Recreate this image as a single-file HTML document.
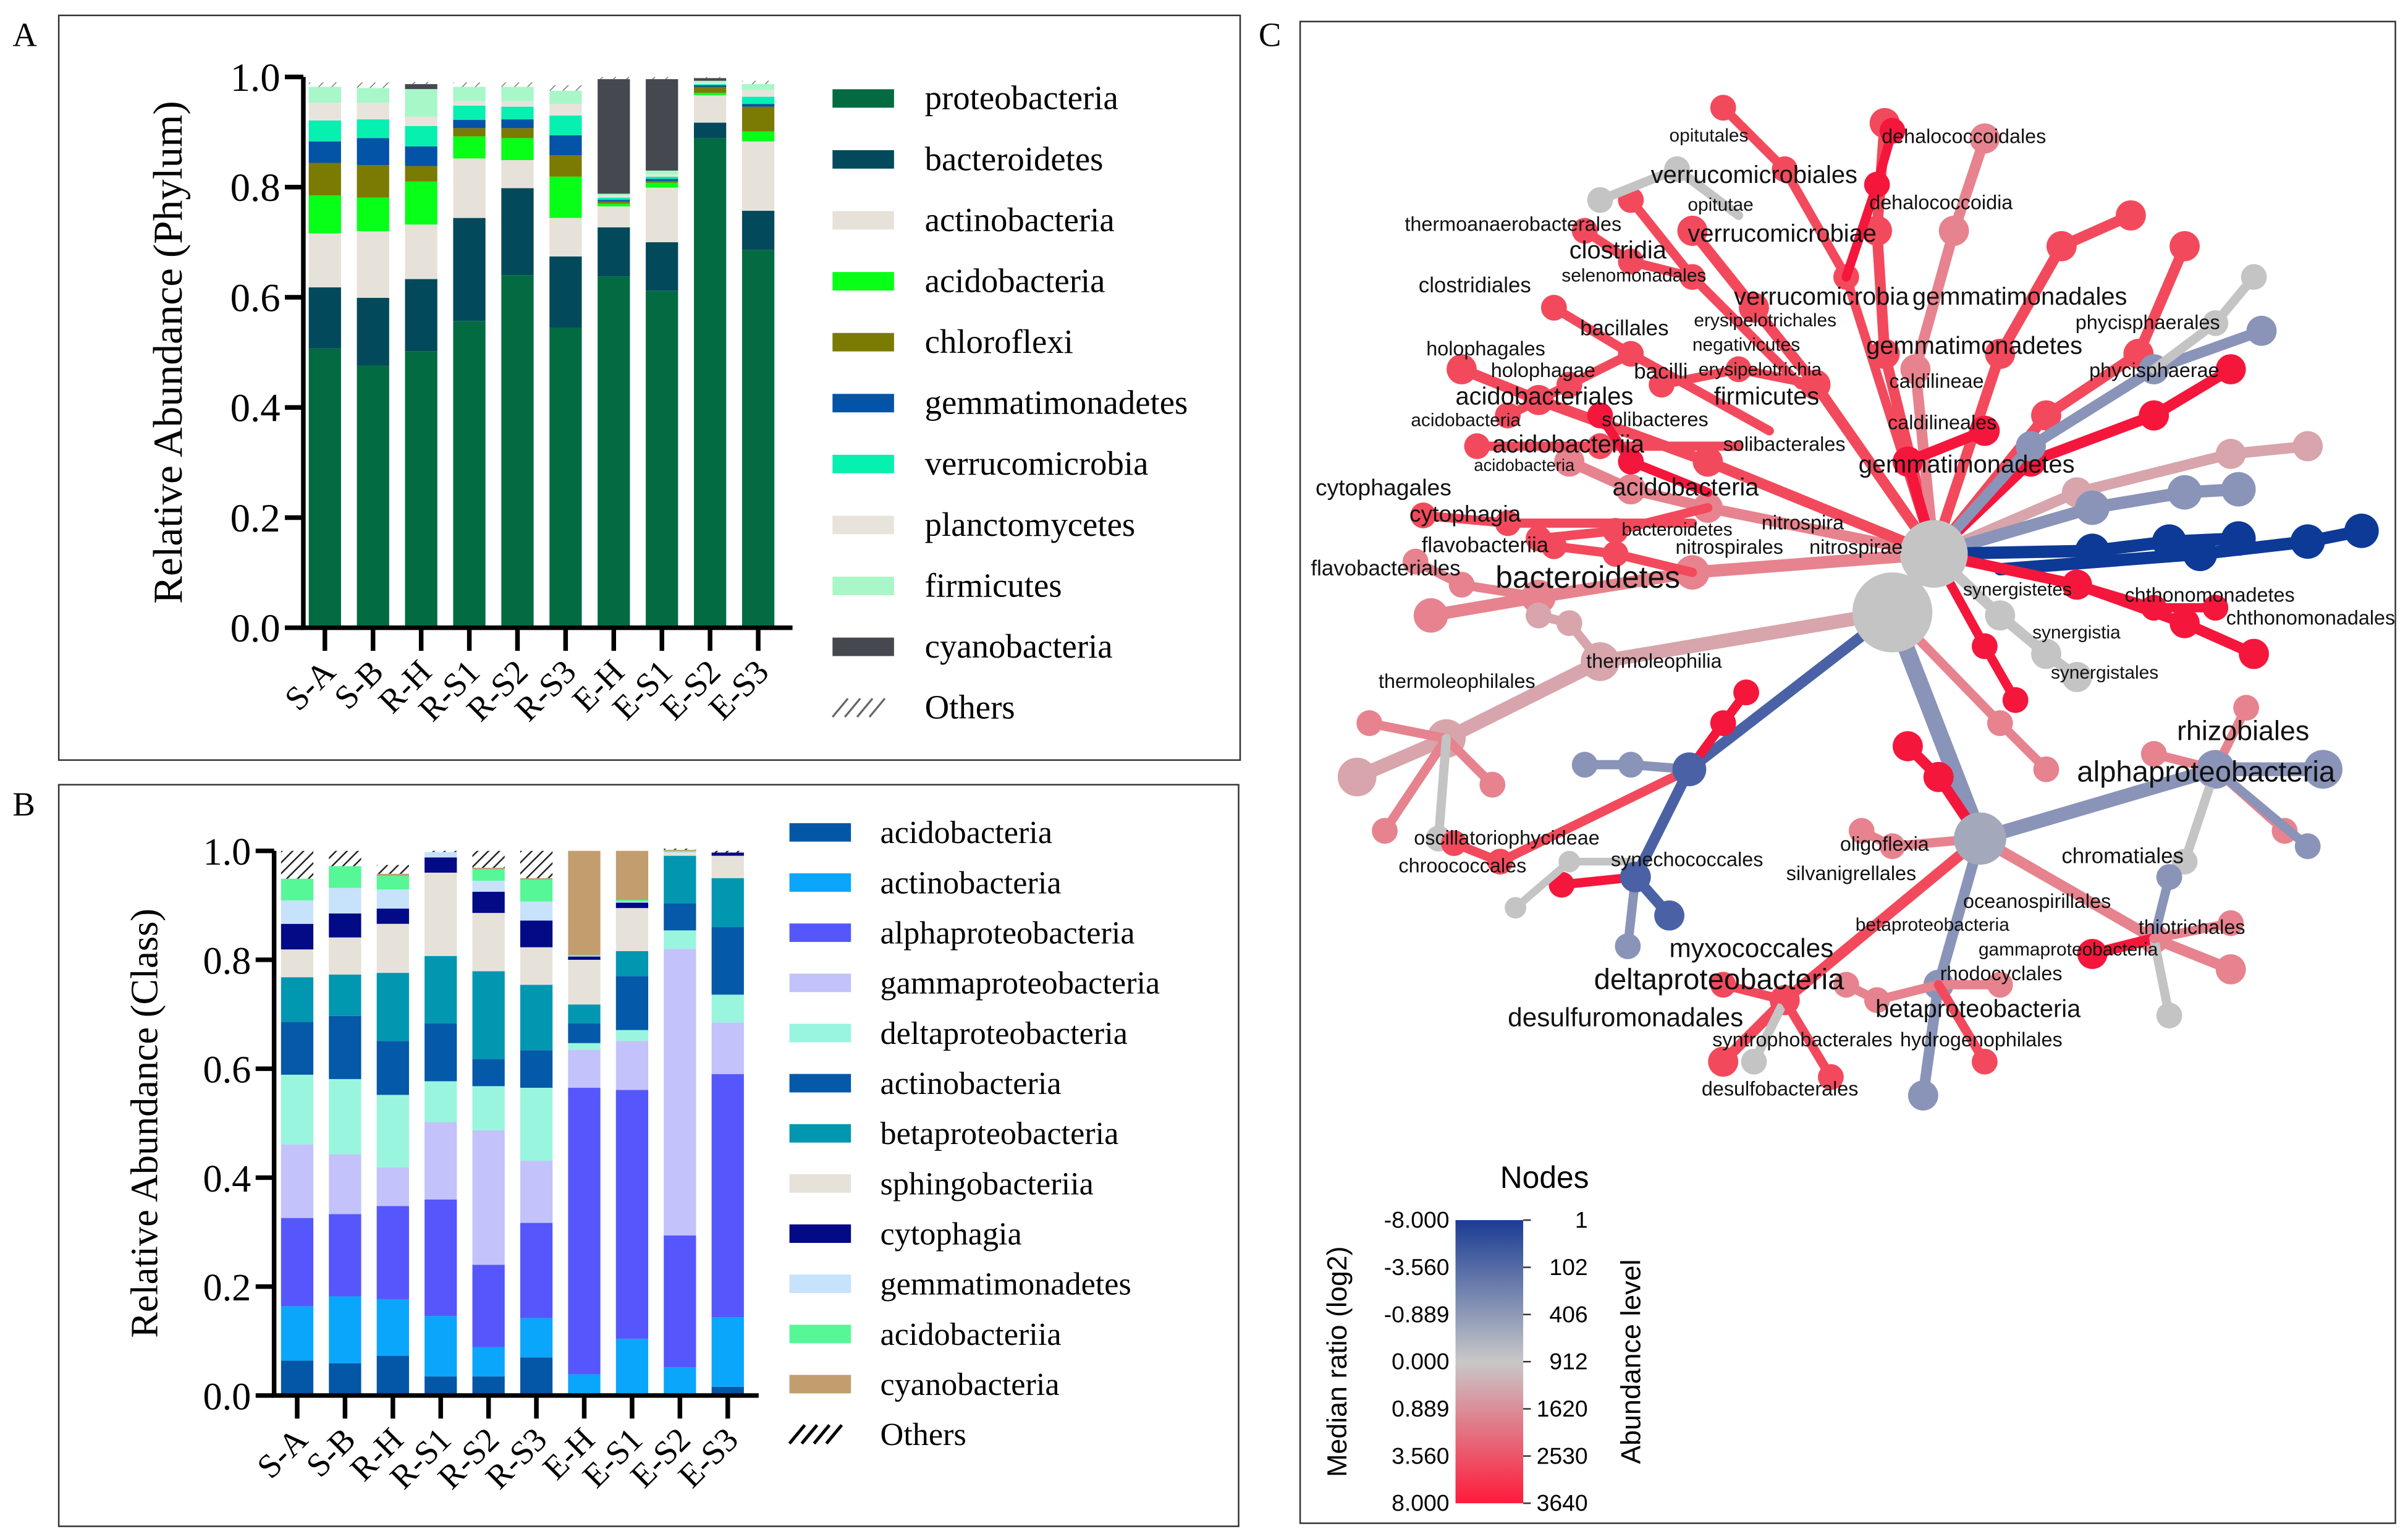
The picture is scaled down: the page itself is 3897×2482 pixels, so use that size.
<!DOCTYPE html>
<html><head><meta charset="utf-8">
<style>
html,body{margin:0;padding:0;background:#fff;}
svg{display:block;}
.serif{font-family:"Liberation Serif",serif;}
.sans{font-family:"Liberation Sans",sans-serif;}
</style></head>
<body>
<svg id="fig" width="3897" height="2482" viewBox="0 0 1565 997" xmlns="http://www.w3.org/2000/svg">
<defs>
<pattern id="hatch" patternUnits="userSpaceOnUse" width="5" height="5" patternTransform="rotate(45)">
<rect width="5" height="5" fill="#fff"/><line x1="0" y1="0" x2="0" y2="5" stroke="#222" stroke-width="2"/>
</pattern>
<pattern id="hatchA" patternUnits="userSpaceOnUse" width="6" height="6" patternTransform="rotate(45)">
<rect width="6" height="6" fill="#fff"/><line x1="0" y1="0" x2="0" y2="6" stroke="#777" stroke-width="1.2"/>
</pattern>
<linearGradient id="cbar" x1="0" y1="0" x2="0" y2="1">
<stop offset="0" stop-color="#1a3c94"/><stop offset="0.5" stop-color="#c8c8c8"/><stop offset="1" stop-color="#ff1a3a"/>
</linearGradient>
</defs>
<rect x="0" y="0" width="1565" height="997" fill="#fff"/>
<rect x="38" y="10" width="768" height="484" fill="none" stroke="#333" stroke-width="1"/>
<rect x="38" y="510" width="767" height="482" fill="none" stroke="#333" stroke-width="1"/>
<rect x="845" y="14" width="712" height="976" fill="none" stroke="#333" stroke-width="1"/>
<text x="8" y="30" class="serif" font-size="22">A</text>
<text x="8" y="530" class="serif" font-size="22">B</text>
<text x="818" y="30" class="serif" font-size="22">C</text>
<g id="gA"></g><g id="gB"></g><g id="gC"></g>
</svg>
<script>
// ---------- Panel A data ----------
const samplesA = ["S-A","S-B","R-H","R-S1","R-S2","R-S3","E-H","E-S1","E-S2","E-S3"];
const phylumNames = ["proteobacteria","bacteroidetes","actinobacteria","acidobacteria","chloroflexi","gemmatimonadetes","verrucomicrobia","planctomycetes","firmicutes","cyanobacteria","Others"];
const proteobacteria = [.507,.476,.502,.557,.640,.545,.638,.612,.889,.686];
const bacteroidetes = [.111,.123,.131,.187,.158,.129,.089,.088,.028,.071];
const actinobacteriaP = [.098,.121,.099,.108,.051,.070,.038,.099,.050,.126];
const acidobacteriaP = [.069,.061,.078,.040,.040,.075,.005,.009,.004,.018];
const chloroflexi = [.059,.059,.028,.015,.018,.039,.004,.003,.011,.045];
const gemmatimonadetesP = [.039,.049,.036,.015,.016,.036,.003,.004,.003,.005];
const verrucomicrobia = [.038,.034,.037,.026,.023,.036,.004,.004,.002,.013];
const planctomycetes = [.032,.030,.017,.008,.010,.021,.004,.004,.003,.012];
const firmicutes = [.029,.027,.050,.026,.026,.024,.003,.007,.003,.011];
const cyanobacteriaP = [0,0,.009,0,0,0,.208,.166,.005,0];
const othersP = [.008,.01,.004,.008,.008,.01,.004,.004,.002,.006];
const seriesA = [proteobacteria,bacteroidetes,actinobacteriaP,acidobacteriaP,chloroflexi,gemmatimonadetesP,verrucomicrobia,planctomycetes,firmicutes,cyanobacteriaP,othersP];
const colorsA = ["#036b42","#03495c","#e6e2da","#08ff18","#7b7a03","#0353a7","#06f0b0","#e8e4dc","#a8f7c8","#45484f","url(#hatchA)"];
const ticksA = ["0.0","0.2","0.4","0.6","0.8","1.0"];
// ---------- Panel B data ----------
const samplesB = ["S-A","S-B","R-H","R-S1","R-S2","R-S3","E-H","E-S1","E-S2","E-S3"];
const classNames = ["acidobacteria","actinobacteria","alphaproteobacteria","gammaproteobacteria","deltaproteobacteria","actinobacteria","betaproteobacteria","sphingobacteriia","cytophagia","gemmatimonadetes","acidobacteriia","cyanobacteria","Others"];
const acidobacteriaC = [.064,.059,.073,.035,.035,.070,0,0,0,.016];
const actinobacteriaC = [.100,.123,.104,.111,.054,.072,.039,.104,.052,.128];
const alphaproteo = [.162,.151,.171,.214,.151,.175,.526,.457,.242,.446];
const gammaproteo = [.135,.110,.071,.142,.247,.114,.070,.090,.526,.095];
const deltaproteo = [.128,.138,.133,.075,.081,.134,.012,.020,.034,.051];
const actinobacteriaC2 = [.097,.116,.099,.106,.050,.069,.036,.099,.050,.124];
const betaproteo = [.082,.076,.125,.124,.161,.120,.035,.046,.087,.090];
const sphingobacteriia = [.051,.068,.090,.153,.107,.069,.082,.079,.005,.041];
const cytophagia = [.047,.044,.028,.028,.039,.049,.006,.010,0,.006];
const gemmatimonadetesC = [.043,.047,.035,.010,.020,.035,.001,.002,.002,0];
const acidobacteriia = [.040,.040,.025,0,.021,.040,.002,.003,.002,0];
const cyanobacteriaC = [0,0,.004,0,.003,.003,.191,.090,.002,0];
const othersC = [.051,.028,.016,.002,.031,.05,0,0,.002,.003];
const seriesB = [acidobacteriaC,actinobacteriaC,alphaproteo,gammaproteo,deltaproteo,actinobacteriaC2,betaproteo,sphingobacteriia,cytophagia,gemmatimonadetesC,acidobacteriia,cyanobacteriaC,othersC];
const colorsB = ["#0457a6","#0aa6fb","#5557fc","#c3c2fb","#99f5de","#0459a8","#0297b0","#e6e2da","#030a85","#c7e2fb","#56f796","#c29d6e","url(#hatch)"];
const ticksB = ["0.0","0.2","0.4","0.6","0.8","1.0"];

const NS="http://www.w3.org/2000/svg";
function mk(tag, attrs, parent, text){
  const e=document.createElementNS(NS,tag);
  for(const k in attrs) e.setAttribute(k, attrs[k]);
  if(text!==undefined) e.textContent=text;
  parent.appendChild(e); return e;
}

function drawStacked(g, cfg, samples, series, colors, ticks, names, prefix){
  const yS = v => cfg.y0 - v*(cfg.y0-cfg.y1);
  const xS = i => cfg.x0 + cfg.first + i*cfg.pitch;
  samples.forEach((s,i)=>{
    let acc=0;
    series.forEach((ser,k)=>{
      const v=ser[i]; if(!v) { return; }
      const r=mk("rect",{x:xS(i)-cfg.bw/2,y:yS(acc+v),width:cfg.bw,height:yS(acc)-yS(acc+v),fill:colors[k]},g);
      
      
      acc+=v;
    });
    const t=mk("line",{x1:xS(i),y1:cfg.y0,x2:xS(i),y2:cfg.y0+15,stroke:"#000","stroke-width":3},g);
    
    
    const lb=mk("text",{x:xS(i)+8,y:cfg.y0+30,"text-anchor":"end","font-size":cfg.xfs,class:"serif",transform:`rotate(-45 ${xS(i)+8} ${cfg.y0+30})`},g,s);
    
    
  });
  const ax=mk("path",{d:`M${cfg.x0} ${cfg.y1} V${cfg.y0} H${cfg.xEnd}`,stroke:"#000","stroke-width":3,fill:"none"},g);
  
  
  ticks.forEach((t,j)=>{
    const v=parseFloat(t);
    const tl=mk("line",{x1:cfg.x0-12,y1:yS(v),x2:cfg.x0,y2:yS(v),stroke:"#000","stroke-width":3},g);
    
    
    const tx=mk("text",{x:cfg.x0-15,y:yS(v)+9,"text-anchor":"end","font-size":cfg.tfs,class:"serif"},g,t);
    
    
  });
  const yt=mk("text",{x:0,y:0,"text-anchor":"middle","font-size":cfg.yfs,class:"serif",transform:`translate(${cfg.ytx} ${(cfg.y0+cfg.y1)/2}) rotate(-90)`},g,cfg.ytitle);
  
  
  names.forEach((n,k)=>{
    const y=cfg.ly+k*cfg.lstep;
    if(n==="Others"){
      for(let q=0;q<4;q++){
        const hl=mk("line",{x1:cfg.lx+q*8,y1:y+6,x2:cfg.lx+q*8+10,y2:y-6,stroke:prefix==="a"?"#666":"#000","stroke-width":prefix==="a"?1.3:2},g);
        
        
      }
    } else {
      const sw=mk("rect",{x:cfg.lx,y:y-6,width:40,height:12,fill:colors[k]},g);
      
      
    }
    const lt=mk("text",{x:cfg.ltx,y:y+7,"font-size":cfg.lfs,class:"serif"},g,n);
    
    
  });
}
drawStacked(document.getElementById("gA"),
 {x0:197,xEnd:515,y0:408,y1:50,first:14,pitch:31.3,bw:21,xfs:22,tfs:26,yfs:27,lfs:22,ytx:118,ytitle:"Relative Abundance (Phylum)",lx:541,ltx:601,ly:64,lstep:39.6},
 samplesA,seriesA,colorsA,ticksA,phylumNames,"a");
drawStacked(document.getElementById("gB"),
 {x0:178,xEnd:493,y0:907,y1:553,first:15,pitch:31.1,bw:21,xfs:22,tfs:25,yfs:25,lfs:21,ytx:102,ytitle:"Relative Abundance (Class)",lx:513,ltx:572,ly:541,lstep:32.6},
 samplesB,seriesB,colorsB,ticksB,classNames,"b");

// ---------- Panel C tree ----------
const gC=document.getElementById("gC");
const R="#f5163c",R2="#f24a5c",P="#e7838e",PG="#d7a5ab",GR="#c4c4c4",BG="#8a94b8",BL="#4a62a5",DB="#0d3a97";
const branches=[
 [[1257,360],[1110,330],[1060,318],[1020,300],P,7],
 [[1110,330],[1050,345],[1000,350],R2,6],
 [[1257,360],[1180,250],[1140,200],[1100,150],R2,7],
 [[1180,250],[1130,240],[1080,250],R2,6],
 [[1257,360],[1225,230],[1220,150],[1225,80],R2,7],
 [[1257,360],[1245,240],[1270,150],[1290,90],P,7],
 [[1257,360],[1200,180],[1160,110],[1120,70],R2,6],
 [[1200,180],[1220,120],[1230,85],R,6],
 [[1257,360],[1300,230],[1340,160],[1385,140],R2,7],
 [[1257,360],[1330,270],[1390,230],[1420,160],R2,7],
 [[1257,360],[1320,300],[1400,270],[1450,240],R,7],
 [[1257,360],[1350,320],[1450,295],[1500,290],PG,7],
 [[1257,360],[1320,290],[1400,240],[1470,215],BG,7],
 [[1400,240],[1440,210],[1465,180],GR,6],
 [[1257,360],[1360,330],[1420,320],[1455,318],BG,8],
 [[1257,360],[1360,358],[1410,352],[1455,350],DB,8],
 [[1300,370],[1430,360],[1500,352],[1535,345],DB,8],
 [[1257,360],[1350,380],[1420,405],[1465,425],R,7],
 [[1350,380],[1400,395],[1440,395],R,6],
 [[1257,360],[1300,400],[1330,425],[1350,440],GR,7],
 [[1257,360],[1290,420],[1310,455],R,6],
 [[1257,360],[1100,372],[1000,388],[930,400],P,8],
 [[1000,388],[950,380],[920,365],P,6],
 [[1100,372],[1050,360],[1010,355],R2,6],
 [[1257,360],[1110,300],[1000,260],[950,240],R2,7],
 [[1150,280],[1060,230],[1010,200],R2,6],
 [[1060,230],[1020,250],[980,270],R2,6],
 [[1170,250],[1100,180],[1060,130],R2,6],
 [[1100,180],[1060,170],[1030,150],R2,6],
 [[1130,290],[1040,290],[960,290],R2,6],
 [[1100,340],[980,340],[925,335],R2,6],
 [[1110,320],[1060,300],[1040,270],R,6],
 [[1130,140],[1090,110],[1040,130],GR,6],
 [[1230,398],[1040,430],[940,480],[882,505],PG,9],
 [[940,480],[890,470],P,6],[[940,480],[900,540],P,6],[[940,480],[970,510],P,6],[[940,480],[935,545],GR,6],
 [[1040,430],[1020,405],[1000,400],PG,6],
 [[1230,398],[1098,500],[1063,570],[1085,595],BL,7],
 [[1063,570],[1058,615],BG,6],
 [[1098,500],[1060,497],[1030,497],BG,6],
 [[1098,500],[975,560],[945,548],R2,6],
 [[1098,500],[1120,470],[1135,450],R,6],
 [[1063,570],[1015,575],R,6],
 [[1060,560],[1020,560],[985,590],GR,5],
 [[1230,398],[1287,545],BG,11],
 [[1287,545],[1440,500],[1510,500],BG,9],
 [[1440,500],[1460,460],P,6],[[1440,500],[1485,540],P,6],[[1440,500],[1420,560],GR,6],[[1440,500],[1500,550],BG,6],[[1440,500],[1400,490],P,6],
 [[1287,545],[1400,610],[1450,630],P,7],
 [[1400,610],[1410,570],BG,6],[[1400,610],[1360,620],R,7],[[1400,610],[1410,660],GR,6],[[1400,610],[1450,600],P,6],
 [[1287,545],[1260,640],[1250,712],BG,7],
 [[1260,640],[1220,650],[1200,640],P,6],[[1260,640],[1300,640],P,6],[[1260,640],[1290,690],R2,6],
 [[1287,545],[1160,650],[1120,690],R2,7],
 [[1160,650],[1140,690],GR,6],[[1160,650],[1190,700],R2,6],[[1160,650],[1120,640],R2,6],
 [[1287,545],[1260,505],[1240,485],R,7],
 [[1287,545],[1230,550],[1210,540],P,6],
 [[1230,398],[1300,470],[1330,500],P,6],
 [[1257,360],[1240,300],[1290,280],R,7]
];
branches.forEach(b=>{
  const w=b[b.length-1], col=b[b.length-2], pts=b.slice(0,b.length-2);
  const pl=mk("polyline",{points:pts.map(p=>p.join(",")).join(" "),fill:"none",stroke:col,"stroke-width":w,"stroke-linecap":"round","stroke-linejoin":"round"},gC);
  
  
  pts.slice(1).forEach(p=>{
    const c=mk("circle",{cx:p[0],cy:p[1],r:w*1.4,fill:col},gC);
    
    
  });
});
[[1257,360,22,GR],[1230,398,26,GR],[1287,545,17,"#a3a9ba"],[1098,500,11,BL],[1440,500,12,BG],[1063,570,10,BL]].forEach(h=>{
  const c=mk("circle",{cx:h[0],cy:h[1],r:h[2],fill:h[3]},gC);
  
  
});
const labelsC=[
 ["opitutales",1085,92,12],["dehalococcoidales",1223,93,13],["verrucomicrobiales",1073,119,16],["opitutae",1097,137,12],["dehalococcoidia",1215,136,13],
 ["thermoanaerobacterales",913,150,13],["verrucomicrobiae",1097,157,16],["clostridia",1020,168,16],["selenomonadales",1015,183,12],["clostridiales",922,190,14],
 ["verrucomicrobia",1127,198,16],["gemmatimonadales",1243,198,16],["bacillales",1027,218,14],["erysipelotrichales",1101,212,12],["phycisphaerales",1349,214,13],
 ["holophagales",927,231,13],["negativicutes",1100,228,12],["gemmatimonadetes",1213,230,16],["holophagae",969,245,13],["bacilli",1062,246,14],["erysipelotrichia",1104,244,12],["phycisphaerae",1358,245,13],["caldilineae",1228,252,13],
 ["acidobacteriales",946,263,16],["firmicutes",1114,263,16],["acidobacteria",917,277,12],["solibacteres",1041,277,13],["caldilineales",1227,279,13],["acidobacteriia",970,294,16],["solibacterales",1120,293,13],["gemmatimonadetes",1208,307,16],["acidobacteria",958,306,11],
 ["cytophagales",855,322,15],["acidobacteria",1048,322,16],["cytophagia",916,339,15],["nitrospira",1145,344,13],["bacteroidetes",1054,348,12],["flavobacteriia",924,359,14],["nitrospirales",1089,360,13],["nitrospirae",1176,360,13],
 ["flavobacteriales",852,374,14],["bacteroidetes",972,382,20],["synergistetes",1276,387,12],["chthonomonadetes",1381,391,13],["chthonomonadales",1447,406,13],
 ["synergistia",1321,415,12],["thermoleophilia",1031,434,13],["synergistales",1333,441,12],["thermoleophilales",896,447,13],
 ["rhizobiales",1415,481,18],["alphaproteobacteria",1350,508,19],["oscillatoriophycideae",919,549,13],["oligoflexia",1196,553,13],["chromatiales",1340,561,14],
 ["chroococcales",909,567,13],["synechococcales",1047,563,13],["silvanigrellales",1161,572,13],["oceanospirillales",1276,590,13],["betaproteobacteria",1206,605,12],["thiotrichales",1390,607,13],
 ["gammaproteobacteria",1286,621,12],["myxococcales",1085,622,17],["deltaproteobacteria",1036,643,19],["rhodocyclales",1261,637,13],["betaproteobacteria",1219,661,16],
 ["desulfuromonadales",980,667,17],["syntrophobacterales",1113,680,13],["hydrogenophilales",1235,680,13],["desulfobacterales",1106,712,13]
];
labelsC.forEach(l=>{
  const t=mk("text",{x:l[1],y:l[2],"font-size":l[3],class:"sans",fill:"#111"},gC,l[0]);
  
  
});
const cbLeft=["-8.000","-3.560","-0.889","0.000","0.889","3.560","8.000"];
const cbRight=["1","102","406","912","1620","2530","3640"];
const cb=mk("path",{d:"M946 793 L990 793 L990 977 L946 977 Z",fill:"url(#cbar)"},gC);


cbLeft.forEach((v,i)=>{
  const y=793+i*(184/6);
  const t=mk("text",{x:942,y:y+5,"text-anchor":"end","font-size":15,class:"sans"},gC,v);
  
  
  const t2=mk("text",{x:1032,y:y+5,"text-anchor":"end","font-size":15,class:"sans"},gC,cbRight[i]);
  
  
  const tk=mk("line",{x1:990,y1:y,x2:995,y2:y,stroke:"#333","stroke-width":1},gC);
  
  
});
const nt=mk("text",{x:975,y:772,"font-size":20,class:"sans"},gC,"Nodes");


const mt=mk("text",{x:0,y:0,"text-anchor":"middle","font-size":18,class:"sans",transform:"translate(875 885) rotate(-90)"},gC,"Median ratio (log2)");


const at=mk("text",{x:0,y:0,"text-anchor":"middle","font-size":18,class:"sans",transform:"translate(1066 885) rotate(-90)"},gC,"Abundance level");


</script>
</body></html>
